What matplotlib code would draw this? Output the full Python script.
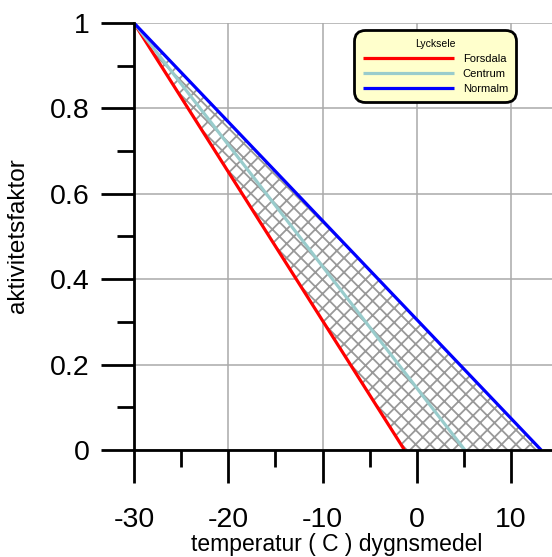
import numpy as np
import matplotlib
matplotlib.use('Agg')
import matplotlib.pyplot as plt
from matplotlib.ticker import MultipleLocator

# rendered at 86 dpi so the hatch pitch comes out ~7 px; k converts sizes
DPI = 86
k = 100 / DPI

plt.rcParams['font.family'] = ['Liberation Sans', 'DejaVu Sans']
plt.rcParams['hatch.color'] = '#999999'
plt.rcParams['hatch.linewidth'] = 1.3 * k

# data: activity factor falls linearly from 1 at -30 C to 0 at the end temperature
start_temp = -30
series_names = ['Forsdala', 'Centrum', 'Normalm']
end_temps = [-1.3, 5.1, 13.2]
series_colors = ['#ff0000', '#99cccc', '#0000ff']
x_ticks = [-30, -20, -10, 0, 10]
x_tick_labels = ['-30', '-20', '-10', '0', '10']
y_ticks = [0, 0.2, 0.4, 0.6, 0.8, 1]
y_tick_labels = ['0', '0.2', '0.4', '0.6', '0.8', '1']

fig = plt.figure(figsize=(552 / DPI, 557 / DPI), dpi=DPI)
ax = fig.add_axes([134 / 552, 1 - 450 / 557, 1 - 134 / 552, (450 - 23) / 557])

# hatched band between the two outer lines
band_y = np.array([1.0, 0.0])
lo_x = np.array([start_temp, end_temps[0]])
hi_x = np.array([start_temp, end_temps[2]])
ax.fill_betweenx(band_y, lo_x, hi_x, facecolor='white', hatch='xx',
                 edgecolor='#999999', linewidth=0, zorder=2)

for name, end, col in zip(series_names, end_temps, series_colors):
    ax.plot([start_temp, end], [1, 0], color=col, lw=2.3 * k, label=name,
            zorder=3, solid_capstyle='butt')

ax.set_xlim(-30, 14.35)
ax.set_ylim(0, 1)
ax.set_xticks(x_ticks)
ax.set_xticklabels(x_tick_labels)
ax.set_yticks(y_ticks)
ax.set_yticklabels(y_tick_labels)
ax.xaxis.set_minor_locator(MultipleLocator(5))
ax.yaxis.set_minor_locator(MultipleLocator(0.1))
ax.grid(True, which='major', color='#aaaaaa', lw=1.1 * k, zorder=0)
ax.set_axisbelow(True)

for s in ['top', 'right']:
    ax.spines[s].set_visible(False)
for s in ['left', 'bottom']:
    ax.spines[s].set_linewidth(2.0 * k)
    ax.spines[s].set_zorder(4)

ax.tick_params(which='major', direction='out', length=24 * k, width=2.0 * k,
               labelsize=20.5 * k)
ax.tick_params(axis='x', which='major', pad=17 * k)
ax.tick_params(axis='y', which='major', pad=8 * k)
ax.tick_params(which='minor', direction='out', length=12 * k, width=2.0 * k)

ax.set_xlabel('temperatur ( C ) dygnsmedel', fontsize=16.5 * k)
ax.xaxis.set_label_coords(0.484, -0.195)
ax.set_ylabel('aktivitetsfaktor', fontsize=17.5 * k)
ax.yaxis.set_label_coords(-0.25, 0.503)

leg = ax.legend(title='Lycksele', fontsize=8 * k, title_fontsize=7.5 * k,
                loc='upper left', bbox_to_anchor=(0.535, 0.975),
                handlelength=8.2, labelspacing=0.45, handletextpad=0.8,
                borderpad=0.45, borderaxespad=0, fancybox=True, framealpha=1)
frame = leg.get_frame()
frame.set_facecolor('#ffffcc')
frame.set_edgecolor('black')
frame.set_linewidth(2.0 * k)
frame.set_boxstyle('round,pad=0.3,rounding_size=1.0')
for line in leg.get_lines():
    line.set_linewidth(2.3 * k)

fig.savefig('out.png', dpi=DPI)
